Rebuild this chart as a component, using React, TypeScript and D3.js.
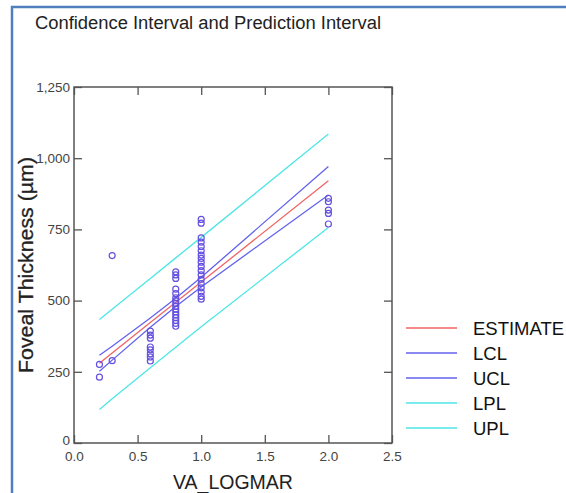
import React, { useEffect, useRef } from 'react';
import * as d3 from 'd3';

// fitted lines are evaluated at the distinct x values of the data
const fitX = [0.2, 0.3, 0.6, 0.8, 1.0, 2.0];
const estimate = [280, 316, 423, 494, 565, 921];
const lcl = [252, 291, 406, 479, 548, 871];
const ucl = [308, 340, 439, 508, 582, 971];
const lpl = [118, 155, 264, 336, 408, 757];
const upl = [434, 470, 578, 650, 722, 1085];

// observed points, grouped by VA_LOGMAR
const pts02 = [276, 231];
const pts03 = [658, 289];
const pts06 = [393, 379, 368, 337, 327, 313, 302, 288];
const pts08 = [601, 590, 578, 540, 525, 510, 500, 490, 480, 470, 460, 450, 440, 430, 420, 410];
const pts10 = [785, 772, 720, 705, 690, 675, 660, 648, 635, 620, 605, 590, 575, 560, 545, 530, 515, 505];
const pts20 = [859, 847, 818, 806, 769];

const xTicks = [0, 0.5, 1.0, 1.5, 2.0, 2.5];
const yTicks = [0, 250, 500, 750, 1000, 1250];

const legendNames = ['ESTIMATE', 'LCL', 'UCL', 'LPL', 'UPL'];
const legendColors = ['#f06464', '#6262ec', '#6262ec', '#4fe6e6', '#4fe6e6'];

const Chart: React.FC = () => {
  const svgRef = useRef<SVGSVGElement>(null);

  useEffect(() => {
    const width = 566;
    const height = 493;
    const left = 74, right = 392, top = 87, bottom = 443;
    const font = "'Liberation Sans', Arial, sans-serif";

    const svg = d3.select(svgRef.current)
      .attr('width', width)
      .attr('height', height);
    svg.selectAll('*').remove();

    svg.append('rect').attr('width', width).attr('height', height).attr('fill', '#fff');

    // outer frame (top and left edges only visible)
    svg.append('path')
      .attr('d', `M12,${height} L12,7 L${width},7`)
      .attr('fill', 'none')
      .attr('stroke', '#4f7fbd')
      .attr('stroke-width', 2.5);

    svg.append('text')
      .attr('x', 35).attr('y', 29)
      .attr('font-family', font).attr('font-size', 18)
      .attr('textLength', 346).attr('lengthAdjust', 'spacingAndGlyphs')
      .attr('fill', '#222')
      .text('Confidence Interval and Prediction Interval');

    const x = d3.scaleLinear().domain([0, 2.5]).range([left, right]);
    const y = d3.scaleLinear().domain([0, 1250]).range([bottom, top]);

    const styleAxis = (g: any) => {
      g.select('.domain').remove();
      g.selectAll('line').attr('stroke', '#555').attr('stroke-width', 1.3);
      g.selectAll('text')
        .attr('font-family', font)
        .attr('font-size', 13.5)
        .attr('fill', '#444');
    };

    svg.append('g')
      .attr('transform', `translate(0,${bottom})`)
      .call(d3.axisBottom(x).tickValues(xTicks).tickFormat(d3.format('.1f')).tickSizeInner(-8).tickSizeOuter(0).tickPadding(8))
      .call(styleAxis);
    svg.append('g')
      .attr('transform', `translate(${left},0)`)
      .call(d3.axisLeft(y).tickValues(yTicks).tickFormat(d3.format(',')).tickSizeInner(-8).tickSizeOuter(0).tickPadding(4))
      .call(styleAxis)
      .selectAll('text')
      .attr('dy', (d: any) => (d === 0 ? '0.1em' : '0.32em'));
    svg.append('g')
      .attr('transform', `translate(0,${top})`)
      .call(d3.axisTop(x).tickValues(xTicks).tickFormat(() => '').tickSizeInner(-8).tickSizeOuter(0))
      .call(styleAxis);
    svg.append('g')
      .attr('transform', `translate(${right},0)`)
      .call(d3.axisRight(y).tickValues(yTicks).tickFormat(() => '').tickSizeInner(-8).tickSizeOuter(0))
      .call(styleAxis);

    svg.append('rect')
      .attr('x', left).attr('y', top)
      .attr('width', right - left).attr('height', bottom - top)
      .attr('fill', 'none').attr('stroke', '#555').attr('stroke-width', 1.5);

    // lines
    const series = [upl, lpl, ucl, lcl, estimate];
    const colors = ['#4fe6e6', '#4fe6e6', '#6262ec', '#6262ec', '#f06464'];
    const line = d3.line<number>().x((_, i) => x(fitX[i])).y(d => y(d));
    series.forEach((s, i) => {
      svg.append('path')
        .attr('d', line(s))
        .attr('fill', 'none')
        .attr('stroke', colors[i])
        .attr('stroke-width', 1.3);
    });

    // points
    const groups: [number, number[]][] = [
      [0.2, pts02], [0.3, pts03], [0.6, pts06], [0.8, pts08], [1.0, pts10], [2.0, pts20],
    ];
    const points = groups.flatMap(([gx, vals]) => vals.map(v => ({ x: gx, y: v })));
    svg.append('g')
      .selectAll('circle')
      .data(points)
      .enter()
      .append('circle')
      .attr('cx', d => x(d.x))
      .attr('cy', d => y(d.y))
      .attr('r', 3)
      .attr('fill', 'none')
      .attr('stroke', '#6450e0')
      .attr('stroke-width', 1.2);

    // axis titles
    svg.append('text')
      .attr('x', (left + right) / 2).attr('y', 489)
      .attr('text-anchor', 'middle')
      .attr('font-family', font).attr('font-size', 19.5)
      .attr('fill', '#222')
      .text('VA_LOGMAR');
    svg.append('text')
      .attr('transform', `translate(33,265) rotate(-90)`)
      .attr('text-anchor', 'middle')
      .attr('font-family', font).attr('font-size', 19.5)
      .attr('textLength', 216).attr('lengthAdjust', 'spacingAndGlyphs')
      .attr('fill', '#222')
      .attr('stroke', '#222').attr('stroke-width', 0.3)
      .text('Foveal Thickness (µm)');

    // legend
    const lg = svg.append('g');
    legendNames.forEach((name, i) => {
      const ly = 328 + i * 25;
      lg.append('line')
        .attr('x1', 406).attr('x2', 457)
        .attr('y1', ly).attr('y2', ly)
        .attr('stroke', legendColors[i])
        .attr('stroke-width', 1.5);
      lg.append('text')
        .attr('x', 473).attr('y', ly + 7)
        .attr('font-family', font).attr('font-size', 18.5)
        .attr('fill', '#111')
        .text(name);
    });
  }, []);

  return <svg ref={svgRef} style={{ position: 'absolute', left: 0, top: 0 }}></svg>;
};

const App: React.FC = () => {
  return <Chart />;
};

export default App;
